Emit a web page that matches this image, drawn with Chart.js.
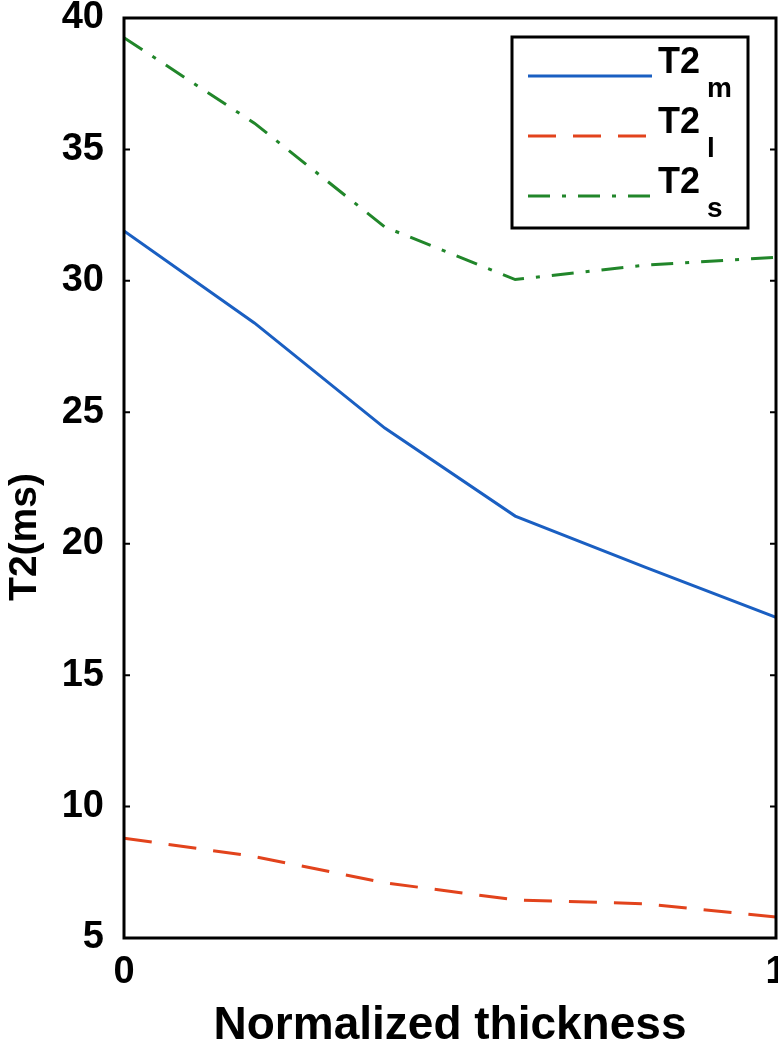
<!DOCTYPE html>
<html>
<head>
<meta charset="utf-8">
<script src="https://cdn.jsdelivr.net/npm/chart.js@4/dist/chart.umd.min.js"></script>
<style>
html, body { margin: 0; padding: 0; background: #fff; }
</style>
</head>
<body>
<canvas id="t2Chart" width="778" height="1050"></canvas>
<script>
// values
const thickness = [0, 0.2, 0.4, 0.6, 0.8, 1];
const t2m = [31.9, 28.4, 24.4, 21.05, 19.1, 17.2];
const t2l = [8.8, 8.1, 7.1, 6.45, 6.3, 5.8];
const t2s = [39.25, 36.0, 32.05, 30.05, 30.6, 30.9];
const xTicks = [0, 1];
const yTicks = [5, 10, 15, 20, 25, 30, 35, 40];
const yTitle = 'T2(ms)';

const FONT = 'Liberation Sans, Arial, Helvetica, sans-serif';
const toPoints = (ys) => ys.map((y, i) => ({ x: thickness[i], y: y }));

// box around the plot + inward tick marks on both sides
const frameBox = {
    id: 'frameBox',
    afterDatasetsDraw(chart) {
        const { ctx, chartArea: a, scales } = chart;
        ctx.save();
        ctx.strokeStyle = '#000';
        ctx.lineWidth = 2;
        yTicks.forEach(v => {
            const py = scales.y.getPixelForValue(v);
            ctx.beginPath();
            ctx.moveTo(a.left, py); ctx.lineTo(a.left + 6, py);
            ctx.moveTo(a.right, py); ctx.lineTo(a.right - 6, py);
            ctx.stroke();
        });
        ctx.lineWidth = 3;
        ctx.strokeRect(a.left, a.top, a.right - a.left, a.bottom - a.top);

        // y axis title, sits a bit below the middle in the original
        ctx.translate(25, 537);
        ctx.rotate(-Math.PI / 2);
        ctx.fillStyle = '#000';
        ctx.font = 'bold 39px ' + FONT;
        ctx.textAlign = 'center';
        ctx.textBaseline = 'middle';
        ctx.fillText(yTitle, 0, 0);
        ctx.restore();
    }
};

// legend with subscripts (T2 m / l / s)
const subLegend = {
    id: 'subLegend',
    afterDraw(chart) {
        const ctx = chart.ctx;
        const subs = ['m', 'l', 's'];
        const bx = 512, by = 37, bw = 236, bh = 191;
        ctx.save();
        ctx.fillStyle = '#fff';
        ctx.fillRect(bx, by, bw, bh);
        ctx.strokeStyle = '#000';
        ctx.lineWidth = 3;
        ctx.strokeRect(bx, by, bw, bh);
        chart.data.datasets.forEach((ds, i) => {
            const ly = 76 + i * 60;
            ctx.strokeStyle = ds.borderColor;
            ctx.lineWidth = ds.borderWidth;
            ctx.setLineDash(ds.borderDash || []);
            ctx.beginPath();
            ctx.moveTo(528, ly);
            ctx.lineTo(652, ly);
            ctx.stroke();
            ctx.setLineDash([]);
            ctx.fillStyle = '#000';
            ctx.textBaseline = 'alphabetic';
            ctx.textAlign = 'left';
            ctx.font = 'bold 36px ' + FONT;
            ctx.fillText('T2', 658, ly - 3);
            ctx.font = 'bold 28px ' + FONT;
            ctx.fillText(subs[i], 707, ly + 21);
        });
        ctx.restore();
    }
};

const ctx1 = document.getElementById('t2Chart').getContext('2d');
const t2Chart = new Chart(ctx1, {
    type: 'line',
    data: {
        datasets: [{
            label: 'T2m',
            data: toPoints(t2m),
            borderColor: '#1A5FC2',
            borderWidth: 3
        }, {
            label: 'T2l',
            data: toPoints(t2l),
            borderColor: '#E2431C',
            borderWidth: 3,
            borderDash: [28, 17]
        }, {
            label: 'T2s',
            data: toPoints(t2s),
            borderColor: '#21862A',
            borderWidth: 3,
            borderDash: [22, 12, 4, 12]
        }]
    },
    options: {
        responsive: false,
        animation: false,
        devicePixelRatio: 1,
        layout: { padding: { top: 18, right: 2, left: 0, bottom: 0 } },
        elements: { point: { radius: 0 }, line: { tension: 0 } },
        plugins: {
            legend: { display: false },
            tooltip: { enabled: false }
        },
        scales: {
            x: {
                type: 'linear',
                min: 0,
                max: 1,
                afterBuildTicks: (s) => { s.ticks = xTicks.map(v => ({ value: v })); },
                afterFit: (s) => { s.height = 112; s.paddingLeft = 0; s.paddingRight = 0; },
                grid: { display: false, drawTicks: false },
                border: { display: false },
                ticks: {
                    color: '#000',
                    padding: 12,
                    maxRotation: 0,
                    font: { family: FONT, size: 38, weight: 'bold' }
                },
                title: {
                    display: true,
                    text: 'Normalized thickness',
                    color: '#000',
                    padding: { top: 0, bottom: 1 },
                    font: { family: FONT, size: 46, weight: 'bold', lineHeight: 1 }
                }
            },
            y: {
                min: 5,
                max: 40,
                afterBuildTicks: (s) => { s.ticks = yTicks.map(v => ({ value: v })); },
                afterFit: (s) => { s.width = 124; s.paddingTop = 0; s.paddingBottom = 0; },
                grid: { display: false, drawTicks: false },
                border: { display: false },
                ticks: {
                    color: '#000',
                    padding: 20,
                    font: { family: FONT, size: 38, weight: 'bold' }
                }
            }
        }
    },
    plugins: [frameBox, subLegend]
});
</script>
</body>
</html>
